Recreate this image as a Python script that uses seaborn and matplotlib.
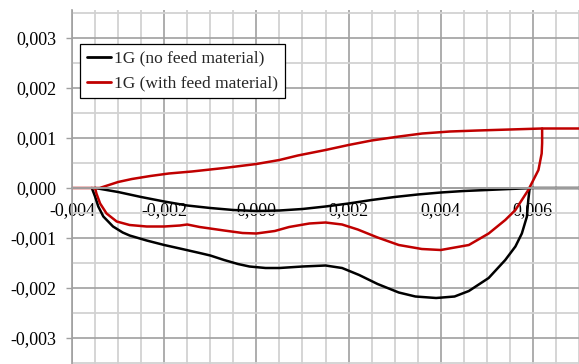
import numpy as np
import pandas as pd
import matplotlib
matplotlib.use("Agg")
import matplotlib.pyplot as plt
import seaborn as sns

# Series names
name_nofeed = "1G (no feed material)"
name_feed = "1G (with feed material)"

# 1G without feed material: upper branch (with the flat tail on the right) and lower branch
nofeed_upper_x = [0.007, 0.006, 0.0055, 0.005, 0.0045, 0.004, 0.0035, 0.003, 0.0025, 0.002,
                  0.0015, 0.001, 0.0005, 0.0, -0.0005, -0.001, -0.0015, -0.002, -0.0025,
                  -0.003, -0.0035]
nofeed_upper_y = [0.0, 0.0, -0.00002, -0.00004, -0.00006, -0.00009, -0.00013, -0.00018, -0.00024,
                  -0.00031, -0.00037, -0.00042, -0.00045, -0.00046, -0.00044, -0.0004, -0.00035,
                  -0.00027, -0.00018, -0.00008, 0.0]
nofeed_lower_x = [-0.00357, -0.0035, -0.00343, -0.00332, -0.00311, -0.0029, -0.00275, -0.00238,
                  -0.002, -0.00166, -0.00123, -0.001, -0.0007, -0.0004, -0.00015, 0.0002, 0.0005,
                  0.001, 0.0015, 0.00186, 0.00223, 0.00263, 0.00309, 0.00345, 0.0039, 0.0043,
                  0.00461, 0.00504, 0.0054, 0.00562, 0.00576, 0.00587, 0.0059, 0.00593]
nofeed_lower_y = [0.0, -0.00017, -0.00037, -0.00057, -0.00077, -0.00089, -0.00095, -0.00105,
                  -0.00114, -0.00121, -0.0013, -0.00135, -0.00144, -0.00152, -0.00157, -0.0016,
                  -0.0016, -0.00157, -0.00155, -0.0016, -0.00174, -0.00192, -0.00209, -0.00217,
                  -0.0022, -0.00217, -0.00206, -0.0018, -0.00144, -0.00117, -0.00091, -0.00057,
                  -0.00024, 0.0]

# 1G with feed material: upper branch (with flat lead-in) and lower branch
feed_upper_x = [-0.004, -0.0035, -0.0034, -0.0032, -0.003, -0.0027, -0.0023, -0.0019, -0.0014,
                -0.0007, 0.0, 0.0005, 0.0009, 0.0015, 0.002, 0.0025, 0.0031, 0.0036, 0.0042,
                0.0048, 0.0055, 0.0062, 0.007]
feed_upper_y = [0.0, 0.0, 0.0, 0.00006, 0.00012, 0.00018, 0.00024, 0.00029, 0.00033,
                0.0004, 0.00048, 0.00056, 0.00065, 0.00076, 0.00086, 0.00095, 0.00103, 0.00109,
                0.00113, 0.00115, 0.00117, 0.00119, 0.00119]
feed_lower_x = [-0.0035, -0.00347, -0.00339, -0.00325, -0.00303, -0.00275, -0.00238, -0.002,
                -0.00166, -0.0015, -0.00123, -0.0007, -0.0003, 0.0, 0.0004, 0.00071, 0.00115,
                0.0015, 0.00186, 0.0022, 0.00263, 0.00309, 0.00359, 0.004, 0.00461, 0.00504,
                0.0054, 0.00562, 0.00576, 0.0059, 0.00601, 0.00612, 0.00619, 0.0062, 0.0062]
feed_lower_y = [0.0, -0.00011, -0.00031, -0.00051, -0.00067, -0.00074, -0.00077, -0.00077,
                -0.00075, -0.00073, -0.00078, -0.00085, -0.0009, -0.00091, -0.00086, -0.00078,
                -0.00071, -0.00069, -0.00073, -0.00083, -0.00099, -0.00114, -0.00122, -0.00124,
                -0.00114, -0.00091, -0.00064, -0.00044, -0.00024, -0.00004, 0.00016, 0.00036,
                0.00069, 0.0009, 0.00119]

# Axis ticks and labels
x_ticks = [-0.004, -0.002, 0.0, 0.002, 0.004, 0.006]
x_tick_labels = ["-0,004", "-0,002", "0,000", "0,002", "0,004", "0,006"]
y_ticks = [-0.003, -0.002, -0.001, 0.0, 0.001, 0.002, 0.003]
y_tick_labels = ["-0,003", "-0,002", "-0,001", "0,000", "0,001", "0,002", "0,003"]


def branch(name, part, xs, ys):
    return pd.DataFrame({"x": xs, "y": ys, "series": name, "branch": f"{name}:{part}"})


df = pd.concat([
    branch(name_nofeed, "upper", nofeed_upper_x, nofeed_upper_y),
    branch(name_nofeed, "lower", nofeed_lower_x, nofeed_lower_y),
    branch(name_feed, "upper", feed_upper_x, feed_upper_y),
    branch(name_feed, "lower", feed_lower_x, feed_lower_y),
], ignore_index=True)

sns.set_theme(style="white")
plt.rcParams["font.family"] = ["Liberation Serif", "DejaVu Serif"]

fig = plt.figure(figsize=(5.79, 3.64), dpi=100)
ax = fig.add_axes([72 / 579, 0.0, 1 - 72 / 579, 1 - 10 / 364])

sns.lineplot(data=df, x="x", y="y", hue="series", units="branch", estimator=None,
             sort=False, palette={name_nofeed: "#000000", name_feed: "#c00000"},
             hue_order=[name_nofeed, name_feed], linewidth=1.8, ax=ax,
             solid_joinstyle="round", solid_capstyle="round")

ax.set_xlim(-0.004, 0.00695)
ax.set_ylim(-0.00352, 0.00356)

ax.set_xticks(x_ticks)
ax.set_xticklabels(x_tick_labels)
ax.set_yticks(y_ticks)
ax.set_yticklabels(y_tick_labels)
ax.set_xticks(np.arange(-0.004, 0.0071, 0.0005), minor=True)
ax.set_yticks(np.arange(-0.0035, 0.0036, 0.0005), minor=True)

ax.grid(which="minor", color="#d2d2d2", linewidth=1.3)
ax.grid(which="major", color="#a0a0a0", linewidth=1.2)
ax.set_axisbelow(True)

for side in ("top", "right"):
    ax.spines[side].set_visible(False)
ax.spines["left"].set_color("#a0a0a0")
ax.spines["left"].set_linewidth(1.2)
ax.spines["bottom"].set_position(("data", 0))
ax.spines["bottom"].set_color("#a0a0a0")
ax.spines["bottom"].set_linewidth(1.4)

ax.tick_params(axis="x", which="both", length=0, pad=10, labelsize=13, colors="black")
ax.tick_params(axis="y", which="major", length=4, width=1.0, color="#a0a0a0",
               pad=7, labelsize=13, labelcolor="black", direction="out", left=True)
ax.tick_params(axis="y", which="minor", length=0)
ax.set_xlabel("")
ax.set_ylabel("")

handles, labels = ax.get_legend_handles_labels()
leg = ax.legend(handles, labels, loc="upper left",
                bbox_to_anchor=((80 - 72) / 507, 1 - (44 - 10) / 354),
                borderaxespad=0, fontsize=12.5, frameon=True, fancybox=False,
                edgecolor="#000000", framealpha=1, handlelength=1.4,
                handletextpad=0.2, labelspacing=0.5, borderpad=0.38)
leg.get_frame().set_linewidth(0.9)
for line in leg.get_lines():
    line.set_linewidth(2.0)

fig.savefig("out.png", dpi=100)
